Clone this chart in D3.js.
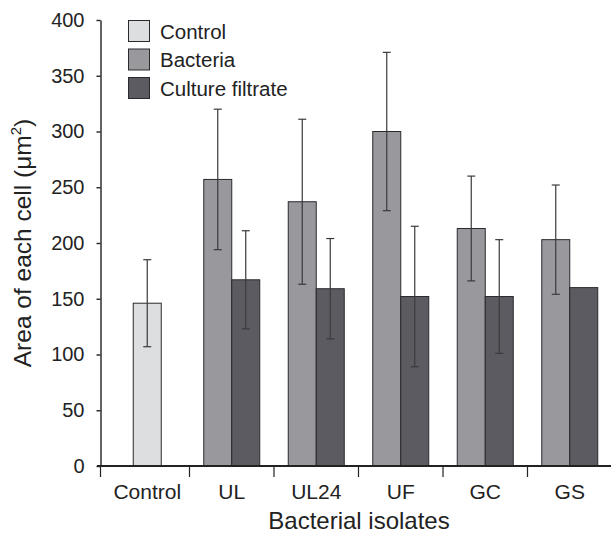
<!DOCTYPE html>
<html>
<head>
<meta charset="utf-8">
<script src="https://cdn.jsdelivr.net/npm/d3@7"></script>
<style>
  body { margin: 0; background: #fff; }
  svg { font-family: "Liberation Sans", Arial, sans-serif; }
</style>
</head>
<body>
<svg></svg>
<script>
const isolates = ["Control", "UL", "UL24", "UF", "GC", "GS"]
const seriesNames = ["Control", "Bacteria", "Culture filtrate"]
const seriesColors = ["#dddee0", "#99989d", "#5c5b61"]

// one entry per isolate; null = no bar
const controlMean = [146, null, null, null, null, null]
const controlErr = [39, null, null, null, null, null]
const bacteriaMean = [null, 257, 237, 300, 213, 203]
const bacteriaErr = [null, 63, 74, 71, 47, 49]
const filtrateMean = [null, 167, 159, 152, 152, 160]
const filtrateErr = [null, 44, 45, 63, 51, null]

const yTicks = [0, 50, 100, 150, 200, 250, 300, 350, 400]

const svg = d3.select("svg")
  .attr("width", 611)
  .attr("height", 535)

const y = d3.scaleLinear()
  .domain([0, 400])
  .range([466, 20])

const x = d3.scaleBand()
  .domain(isolates)
  .range([105, 612])

const barW = 28

// build bar records
const bars = []
isolates.forEach((iso, i) => {
  if (controlMean[i] != null) {
    bars.push({ iso, s: 0, v: controlMean[i], e: controlErr[i], off: -barW / 2 })
  }
  if (bacteriaMean[i] != null) {
    bars.push({ iso, s: 1, v: bacteriaMean[i], e: bacteriaErr[i], off: -barW })
  }
  if (filtrateMean[i] != null) {
    bars.push({ iso, s: 2, v: filtrateMean[i], e: filtrateErr[i], off: 0 })
  }
})

const cx = (d) => x(d.iso) + x.bandwidth() / 2 + d.off

svg.append("g")
  .selectAll("rect")
  .data(bars)
  .enter()
  .append("rect")
  .attr("x", (d) => cx(d))
  .attr("y", (d) => y(d.v))
  .attr("width", barW)
  .attr("height", (d) => y(0) - y(d.v))
  .attr("fill", (d) => seriesColors[d.s])
  .attr("stroke", "#2a2a2e")
  .attr("stroke-width", 1)

// error bars
const errs = svg.append("g")
  .attr("stroke", "#3a3a3e")
  .attr("stroke-width", 1.2)
  .selectAll("g")
  .data(bars.filter((d) => d.e != null))
  .enter()
  .append("g")
  .attr("transform", (d) => `translate(${cx(d) + barW / 2}, 0)`)

errs.append("line")
  .attr("y1", (d) => y(d.v + d.e))
  .attr("y2", (d) => y(d.v - d.e))
errs.append("line")
  .attr("x1", -4).attr("x2", 4)
  .attr("y1", (d) => y(d.v + d.e))
  .attr("y2", (d) => y(d.v + d.e))
errs.append("line")
  .attr("x1", -4).attr("x2", 4)
  .attr("y1", (d) => y(d.v - d.e))
  .attr("y2", (d) => y(d.v - d.e))

// axes
const yAxis = d3.axisLeft(y)
  .tickValues(yTicks)
  .tickSize(4)
  .tickPadding(12)
  .tickSizeOuter(0)

const yG = svg.append("g")
  .attr("transform", "translate(100.5, 0)")
  .call(yAxis)
yG.selectAll("text").attr("font-size", 20).attr("fill", "#222")
yG.selectAll("line, path").attr("stroke", "#222").attr("stroke-width", 1.4)

const xG = svg.append("g")
  .attr("transform", "translate(0, 466)")
xG.append("line")
  .attr("x1", 97).attr("x2", 611)
  .attr("stroke", "#222").attr("stroke-width", 2)
xG.selectAll("line.tick")
  .data(isolates)
  .enter()
  .append("line")
  .attr("class", "tick")
  .attr("x1", (d, i) => i === 0 ? 100.5 : x(d))
  .attr("x2", (d, i) => i === 0 ? 100.5 : x(d))
  .attr("y1", 0).attr("y2", 11)
  .attr("stroke", "#222").attr("stroke-width", 1.2)
xG.selectAll("text")
  .data(isolates)
  .enter()
  .append("text")
  .attr("x", (d) => x(d) + x.bandwidth() / 2)
  .attr("y", 33)
  .attr("text-anchor", "middle")
  .attr("font-size", 21)
  .attr("fill", "#222")
  .text((d) => d)

// axis titles
svg.append("text")
  .attr("x", 359)
  .attr("y", 529)
  .attr("text-anchor", "middle")
  .attr("font-size", 24)
  .attr("fill", "#222")
  .text("Bacterial isolates")

const yt = svg.append("text")
  .attr("transform", "translate(31, 243) rotate(-90)")
  .attr("text-anchor", "middle")
  .attr("font-size", 24.5)
  .attr("fill", "#222")
yt.append("tspan").text("Area of each cell (μm")
yt.append("tspan").attr("font-size", 15).attr("dy", -10).text("2")
yt.append("tspan").attr("dy", 10).text(")")

// legend
const legend = svg.append("g")
  .selectAll("g")
  .data(seriesNames)
  .enter()
  .append("g")
  .attr("transform", (d, i) => `translate(128.5, ${20.5 + i * 28.5})`)

legend.append("rect")
  .attr("width", 21)
  .attr("height", 21)
  .attr("fill", (d, i) => seriesColors[i])
  .attr("stroke", "#2a2a2e")

legend.append("text")
  .attr("x", 31.5)
  .attr("y", 18)
  .attr("font-size", 20.5)
  .attr("fill", "#222")
  .text((d) => d)
</script>
</body>
</html>
